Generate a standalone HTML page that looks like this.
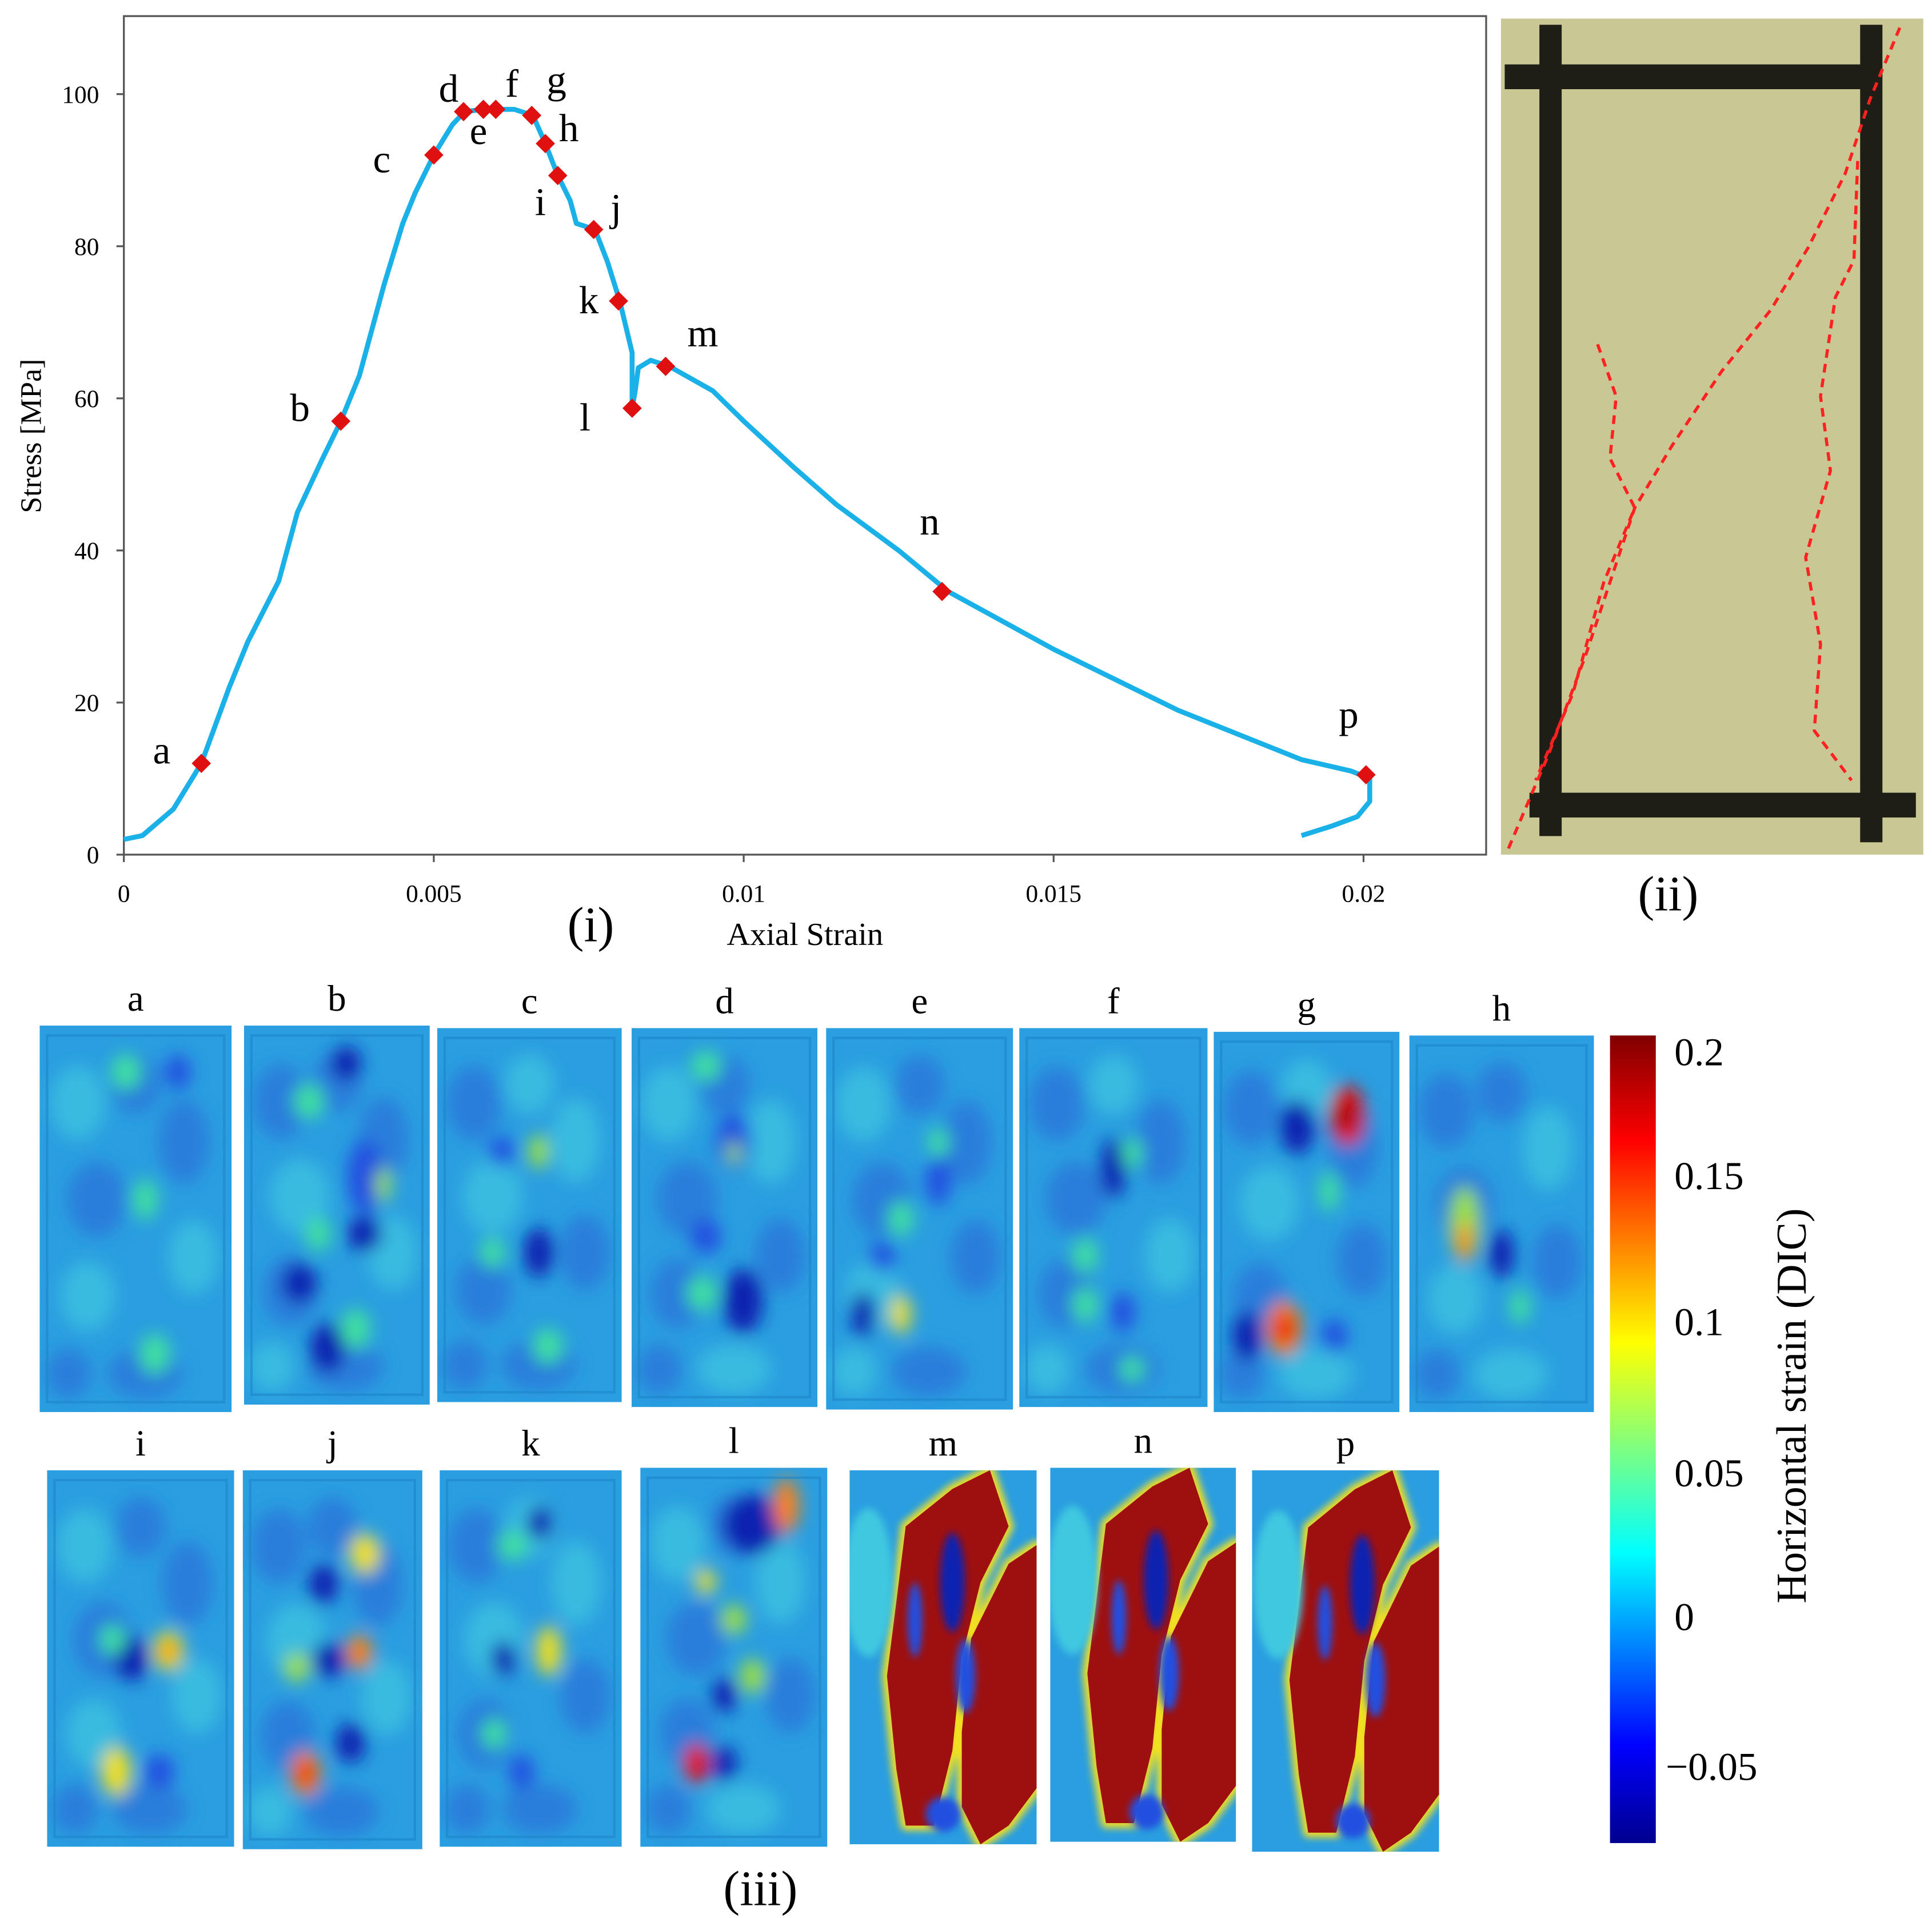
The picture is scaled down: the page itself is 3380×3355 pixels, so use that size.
<!DOCTYPE html>
<html><head><meta charset="utf-8"><style>
html,body{margin:0;padding:0;background:#fff;}
svg{display:block;font-family:"Liberation Serif",serif;}
</style></head><body>
<svg id="fig" xmlns="http://www.w3.org/2000/svg" width="3380" height="3355" viewBox="0 0 1560 1548.5">
<defs>
<filter id="blur" x="-50%" y="-50%" width="200%" height="200%"><feGaussianBlur stdDeviation="7"/></filter>
<filter id="blur2" x="-50%" y="-50%" width="200%" height="200%"><feGaussianBlur stdDeviation="3"/></filter>
<linearGradient id="cbar" x1="0" y1="1" x2="0" y2="0">
<stop offset="0" stop-color="#00008f"/>
<stop offset="0.12" stop-color="#0000ff"/>
<stop offset="0.36" stop-color="#00ffff"/>
<stop offset="0.62" stop-color="#ffff00"/>
<stop offset="0.87" stop-color="#ff0000"/>
<stop offset="1" stop-color="#800000"/>
</linearGradient>
</defs>
<g id="chart"></g>
<g id="photo">
<rect x="1212" y="15" width="341" height="675" fill="#c9c894"/>
<rect x="1215" y="52" width="300" height="20" fill="#1e1e16"/>
<rect x="1235" y="640" width="312" height="20" fill="#1e1e16"/>
<rect x="1243" y="20" width="18" height="655" fill="#1e1e16"/>
<rect x="1502" y="20" width="18" height="660" fill="#1e1e16"/>
<path d="M1218,685 L1250,610 L1280,530 L1300,470 L1320,410 L1350,360 L1390,300 L1430,250 L1460,200 L1490,140 L1510,80 L1535,20" fill="none" stroke="#ff2020" stroke-width="2.5" stroke-dasharray="7,5"/>
<path d="M1290,278 L1305,320 L1300,370 L1320,410 L1295,470 L1270,560 L1240,630" fill="none" stroke="#ff2020" stroke-width="2.5" stroke-dasharray="7,5"/>
<path d="M1500,130 L1497,210 L1482,240 L1470,320 L1478,380 L1458,450 L1470,520 L1465,590 L1495,630" fill="none" stroke="#ff2020" stroke-width="2.5" stroke-dasharray="7,5"/>
</g>
<text x="477" y="760" font-size="40" text-anchor="middle">(i)</text>
<text x="1347" y="735" font-size="40" text-anchor="middle">(ii)</text>
<text x="614" y="1538" font-size="40" text-anchor="middle">(iii)</text>
<g id="maps"></g>
<g id="colorbar">
<rect x="1300" y="836" width="37" height="652" fill="url(#cbar)"/>
<text transform="translate(1458,1135) rotate(-90)" font-size="34" text-anchor="middle">Horizontal strain (DIC)</text>
</g>
</svg>
<script>
const strain=[0,0.0003,0.0008,0.00125,0.0017,0.002,0.0025,0.0028,0.0032,0.0035,0.0038,0.0042,0.0045,0.0047,0.005,0.0053,0.0055,0.0058,0.006,0.0063,0.0066,0.0068,0.007,0.0072,0.0073,0.0076,0.0078,0.008,0.0082,0.0082,0.00825,0.0083,0.0085,0.0088,0.0095,0.01,0.0108,0.0115,0.0125,0.0133,0.015,0.017,0.019,0.0198,0.0201,0.0201,0.0199,0.0195,0.019];
const stress=[2,2.5,6,12,22,28,36,45,52,57,63,75,83,87,92,96,97.7,98,98,98,97.2,93.5,89.3,86,83,82.2,78,72.8,66,58.7,61,64,65,64.2,61,57,51,46,40,34.6,27,19,12.5,11,10,7,5,3.8,2.5];
const markerLabels=["a","b","c","d","e","f","g","h","i","j","k","l","m","n","p"];
const markerStrain=[0.00125,0.0035,0.005,0.00548,0.0058,0.006,0.00658,0.0068,0.007,0.00758,0.00798,0.0082,0.00874,0.0132,0.02004];
const markerStress=[12,57,92,97.7,98,98,97.2,93.5,89.3,82.2,72.8,58.7,64.2,34.6,10.5];
const xTicks=[0,0.005,0.01,0.015,0.02];
const xTickLabels=["0","0.005","0.01","0.015","0.02"];
const yTicks=[0,20,40,60,80,100];
const labelOffsets=[[-32,0],[-33,0],[-42,14],[-12,-8],[-4,28],[13,-10],[20,-18],[19,-2],[-14,32],[18,-7],[-24,10],[-38,18],[30,-16],[-10,-46],[-14,-38]];
const NS="http://www.w3.org/2000/svg";
const X0=100,X1=1200,Y0=690,Y1=13;
function xs(v){return X0+v*50050;}
function ys(v){return Y0-v*6.14;}
function mk(tag,attrs,parent){const e=document.createElementNS(NS,tag);for(const k in attrs)e.setAttribute(k,attrs[k]);parent.appendChild(e);return e;}
const ch=document.getElementById('chart');
let fr=mk('rect',{x:X0,y:Y1,width:X1-X0,height:Y0-Y1,fill:'none',stroke:'#555','stroke-width':1.5},ch);


xTicks.forEach((t,i)=>{
 let l=mk('line',{x1:xs(t),x2:xs(t),y1:Y0,y2:Y0+6,stroke:'#555','stroke-width':1.5},ch);
 
 
 let tx=mk('text',{x:xs(t),y:Y0+38,'font-size':20,'text-anchor':'middle'},ch);
 
 
 tx.textContent=xTickLabels[i];
});
yTicks.forEach(t=>{
 let l=mk('line',{x1:X0-6,x2:X0,y1:ys(t),y2:ys(t),stroke:'#555','stroke-width':1.5},ch);
 
 
 let tx=mk('text',{x:X0-20,y:ys(t)+7,'font-size':20,'text-anchor':'end'},ch);
 
 
 tx.textContent=String(t);
});
let xt=mk('text',{x:650,y:763,'font-size':26,'text-anchor':'middle'},ch);


xt.textContent='Axial Strain';
let yt=mk('text',{transform:'translate(33,352) rotate(-90)','font-size':24,'text-anchor':'middle'},ch);


yt.textContent='Stress [MPa]';
let d=strain.map((s,i)=>(i?'L':'M')+xs(s).toFixed(1)+','+ys(stress[i]).toFixed(1)).join(' ');
let ln=mk('path',{d:d,fill:'none',stroke:'#1ab0e8','stroke-width':4,'stroke-linejoin':'round'},ch);


markerLabels.forEach((lab,i)=>{
 const cx=xs(markerStrain[i]),cy=ys(markerStress[i]);
 let m=mk('rect',{x:cx-5.5,y:cy-5.5,width:11,height:11,fill:'#e01010',transform:`rotate(45 ${cx} ${cy})`},ch);
 
 
 let t=mk('text',{x:cx+labelOffsets[i][0],y:cy+labelOffsets[i][1],'font-size':32,'text-anchor':'middle'},ch);
 
 
 t.textContent=lab;
});
const cbTicks=["0.2","0.15","0.1","0.05","0","\u22120.05"];
const cbY=[848,948,1066,1188,1304,1425];
const cb=document.getElementById('colorbar');
cbTicks.forEach((t,i)=>{
 let tx=mk('text',{x:t==="\u22120.05"?1345:1352,y:cbY[i]+12,'font-size':32},cb);
 
 
 tx.textContent=t;
});
const C={db:'#1020b0',b:'#2050e0',mb:'#2a70d8',lc:'#40c8e0',g:'#40e0a0',gy:'#9be040',y:'#f0e020',o:'#ff8010',r:'#e81010',dr:'#a01010'};
const texture=[[.2,.2,22,30,'lc'],[.75,.3,20,34,'mb'],[.3,.45,24,30,'mb'],[.8,.6,20,30,'lc'],[.25,.7,22,28,'lc'],[.55,.9,30,20,'mb'],[.5,.15,20,24,'mb'],[.15,.9,18,20,'mb']];
const panels=[
 ['a',32,828,155,312,[[.45,.12,12,14,'g'],[.72,.12,10,14,'b'],[.55,.45,10,16,'g'],[.6,.85,12,16,'g']]],
 ['b',197,828,150,306,[[.55,.1,12,14,'db'],[.35,.2,12,14,'g'],[.65,.4,14,30,'b'],[.75,.42,6,14,'gy'],[.4,.55,10,14,'g'],[.65,.55,14,14,'db'],[.3,.68,14,16,'db'],[.45,.85,14,20,'db'],[.6,.8,12,16,'g']]],
 ['c',353,830,149,302,[[.55,.33,8,14,'gy'],[.35,.33,10,12,'b'],[.55,.6,12,20,'db'],[.3,.6,10,12,'g'],[.6,.85,12,14,'g']]],
 ['d',510,830,150,306,[[.55,.3,14,22,'b'],[.55,.33,5,10,'gy'],[.4,.55,12,14,'b'],[.6,.72,16,26,'db'],[.38,.7,12,14,'g'],[.4,.1,12,12,'g']]],
 ['e',667,830,151,308,[[.6,.4,10,20,'b'],[.6,.3,8,12,'g'],[.4,.5,10,14,'g'],[.2,.75,10,18,'db'],[.4,.75,8,16,'y'],[.3,.6,10,12,'b']]],
 ['f',823,830,152,306,[[.5,.37,10,24,'db'],[.6,.33,8,12,'g'],[.35,.6,10,14,'g'],[.35,.73,10,14,'g'],[.55,.75,10,16,'b'],[.6,.9,10,10,'g']]],
 ['g',980,833,150,307,[[.45,.25,14,22,'db'],[.72,.22,14,24,'r'],[.72,.22,8,12,'dr'],[.62,.42,8,16,'g'],[.18,.8,12,20,'db'],[.38,.78,14,22,'o'],[.38,.78,8,12,'r'],[.65,.8,10,14,'b']]],
 ['h',1138,836,149,304,[[.3,.5,12,30,'gy'],[.3,.55,6,16,'o'],[.5,.58,10,20,'db'],[.6,.72,8,14,'g']]],
 ['i',38,1187,151,304,[[.45,.5,14,18,'db'],[.65,.48,12,16,'y'],[.65,.48,6,8,'o'],[.35,.45,10,12,'g'],[.37,.8,12,20,'y'],[.6,.8,12,14,'b']]],
 ['j',196,1187,145,306,[[.45,.3,12,16,'db'],[.68,.22,12,16,'y'],[.48,.5,14,14,'db'],[.65,.48,10,14,'o'],[.3,.52,10,12,'gy'],[.35,.8,12,18,'o'],[.35,.8,6,10,'r'],[.6,.72,12,16,'db']]],
 ['k',355,1187,147,304,[[.55,.14,10,14,'db'],[.4,.2,12,12,'g'],[.6,.48,10,20,'y'],[.35,.5,10,14,'db'],[.3,.7,10,12,'g'],[.45,.8,10,14,'b']]],
 ['l',517,1185,151,306,[[.6,.15,24,24,'db'],[.78,.1,10,22,'o'],[.35,.3,8,10,'y'],[.5,.4,10,12,'gy'],[.6,.55,10,14,'gy'],[.45,.6,10,14,'db'],[.3,.78,10,16,'r'],[.45,.78,10,14,'db']]]
];
const redPanels=[['m',686,1187,151,302],['n',848,1185,150,302],['p',1011,1187,151,308]];
const mg=document.getElementById('maps');
function panelBase(name,x,y,w,h){
 let cp=mk('clipPath',{id:'cp-'+name},mg);
 mk('rect',{x:x,y:y,width:w,height:h},cp);
 let g=mk('g',{'clip-path':`url(#cp-${name})`},mg);
 
 
 mk('rect',{x:x,y:y,width:w,height:h,fill:'#2a9ee0'},g);
 return g;
}
function addLabel(name,x,y,w){
 let t=mk('text',{x:x+w/2,y:y-12,'font-size':30,'text-anchor':'middle'},mg);
 
 
 t.textContent=name;
}
panels.forEach((p,pi)=>{
 const [name,x,y,w,h,blobs]=p;
 const g=panelBase(name,x,y,w,h);
 const bg=mk('g',{filter:'url(#blur)'},g);
 texture.forEach((b,k)=>{const tb=texture[(k+pi)%texture.length];mk('ellipse',{cx:x+b[0]*w,cy:y+b[1]*h,rx:b[2],ry:b[3],fill:C[tb[4]],opacity:.7},bg);});
 blobs.forEach(b=>{mk('ellipse',{cx:x+b[0]*w,cy:y+b[1]*h,rx:b[2],ry:b[3],fill:C[b[4]]},bg);});
 mk('rect',{x:x+6,y:y+8,width:w-12,height:h-16,fill:'none',stroke:'#1c86c8','stroke-width':2,opacity:.6},g);
 addLabel(name,x,y,w);
});
const redShapes=[
 [[.3,.15],[.55,.05],[.75,.0],[.85,.15],[.7,.3],[.6,.5],[.55,.75],[.45,.95],[.3,.95],[.25,.8],[.2,.55],[.25,.35]],
 [[.65,.45],[.85,.25],[1,.2],[1,.85],[.85,.95],[.7,1],[.6,.9],[.6,.7]]
];
const blueBands=[[.55,.3,10,40,'db'],[.62,.55,8,30,'b'],[.1,.3,20,60,'lc'],[.5,.92,14,14,'b'],[.35,.4,6,30,'b']];
redPanels.forEach((p,pi)=>{
 const [name,x,y,w,h]=p;
 const g=panelBase(name,x,y,w,h);
 const bg=mk('g',{filter:'url(#blur2)'},g);
 redShapes.forEach(sh=>{
  const pd='M'+sh.map(q=>(x+q[0]*w).toFixed(1)+','+(y+q[1]*h).toFixed(1)).join(' L')+' Z';
  mk('path',{d:pd,fill:'#ff6010',stroke:'#f0e020','stroke-width':8,'stroke-linejoin':'round'},bg);
  mk('path',{d:pd,fill:'#9e1010','stroke-linejoin':'round'},g);
 });
 const bb=mk('g',{filter:'url(#blur2)'},g);
 blueBands.forEach(b=>{mk('ellipse',{cx:x+b[0]*w+pi*3,cy:y+b[1]*h,rx:b[2],ry:b[3],fill:C[b[4]]},bb);});
 addLabel(name,x,y,w);
});
</script>
</body></html>
